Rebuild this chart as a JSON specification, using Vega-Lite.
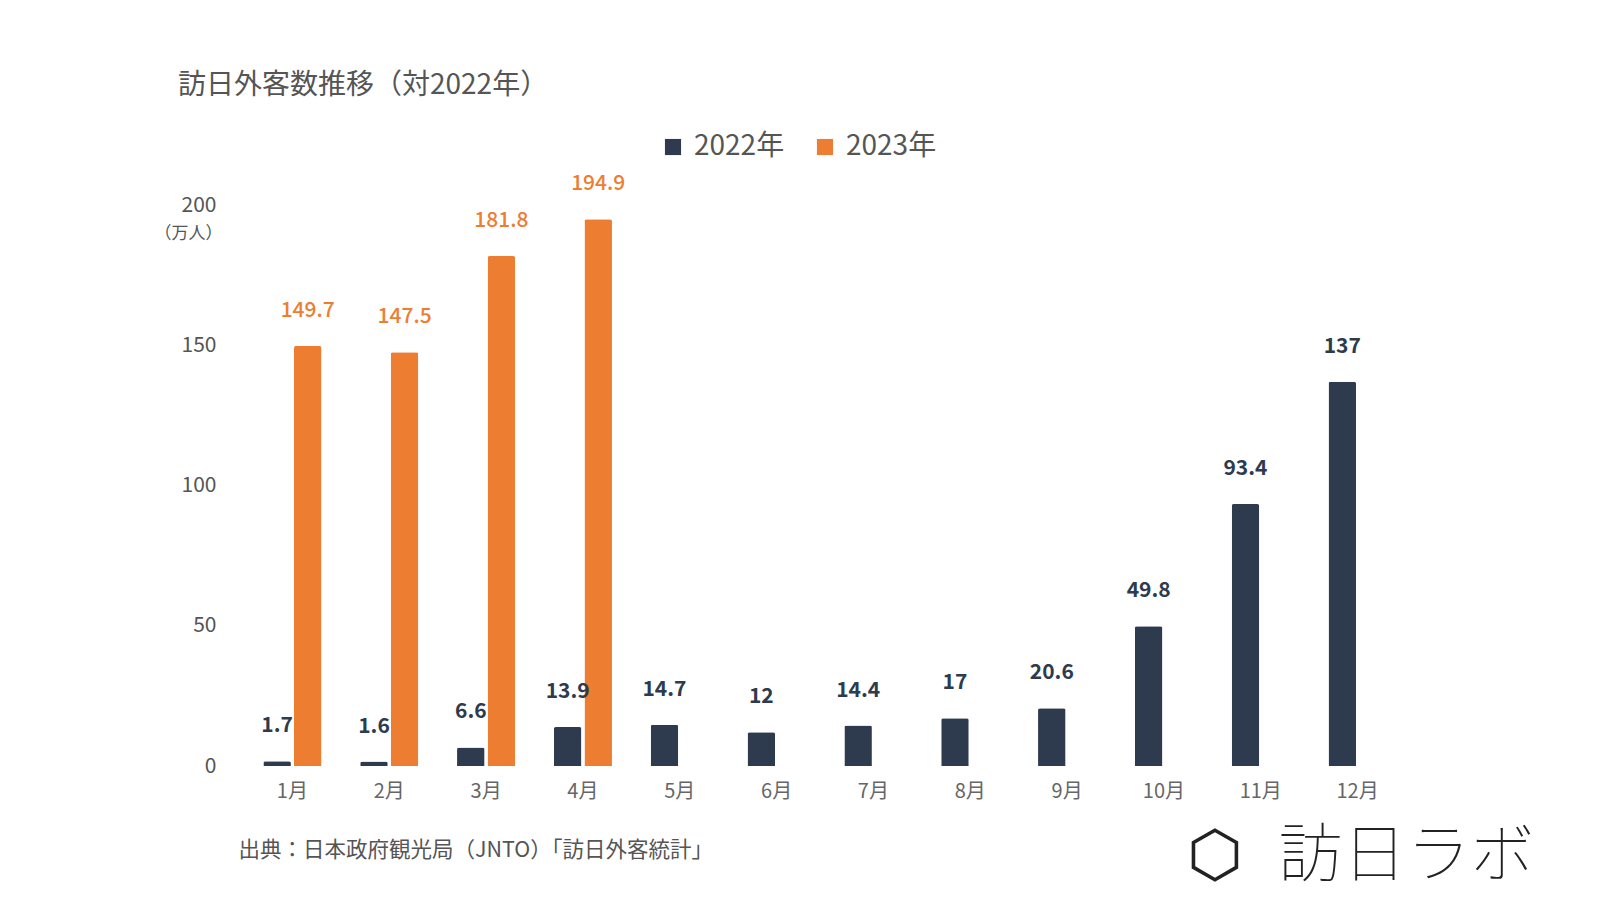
{
  "$schema": "https://vega.github.io/schema/vega-lite/v6.json",
  "autosize": {"type": "none"},
  "width": 1162,
  "height": 561,
  "padding": {"left": 244, "top": 205, "right": 194, "bottom": 134},
  "background": "#ffffff",
  "config": {
    "font": "Noto Sans CJK JP",
    "view": {"stroke": null}
  },
  "title": {
    "text": "訪日外客数推移（対2022年）",
    "anchor": "start",
    "frame": "group",
    "dx": -66,
    "fontSize": 28,
    "fontWeight": "normal",
    "color": "#555555",
    "offset": 33
  },
  "data": {
    "values": [
      {"month": "1月", "year": "2022年", "value": 1.7},
      {"month": "2月", "year": "2022年", "value": 1.6},
      {"month": "3月", "year": "2022年", "value": 6.6},
      {"month": "4月", "year": "2022年", "value": 13.9},
      {"month": "5月", "year": "2022年", "value": 14.7},
      {"month": "6月", "year": "2022年", "value": 12},
      {"month": "7月", "year": "2022年", "value": 14.4},
      {"month": "8月", "year": "2022年", "value": 17},
      {"month": "9月", "year": "2022年", "value": 20.6},
      {"month": "10月", "year": "2022年", "value": 49.8},
      {"month": "11月", "year": "2022年", "value": 93.4},
      {"month": "12月", "year": "2022年", "value": 137},
      {"month": "1月", "year": "2023年", "value": 149.7},
      {"month": "2月", "year": "2023年", "value": 147.5},
      {"month": "3月", "year": "2023年", "value": 181.8},
      {"month": "4月", "year": "2023年", "value": 194.9}
    ]
  },
  "encoding": {
    "x": {
      "field": "month",
      "type": "nominal",
      "sort": ["1月","2月","3月","4月","5月","6月","7月","8月","9月","10月","11月","12月"],
      "scale": {"paddingInner": 0.4, "paddingOuter": 0.2},
      "axis": {
        "title": "出典：日本政府観光局（JNTO）「訪日外客統計」",
        "titleX": -6,
        "titleY": 84,
        "titleAlign": "left",
        "titleBaseline": "middle",
        "titleFontSize": 21.5,
        "titleFontWeight": "normal",
        "titleColor": "#555555",
        "labelAngle": 0,
        "labelFontSize": 20,
        "labelColor": "#666666",
        "labelPadding": 15,
        "ticks": false,
        "domain": false,
        "grid": false
      }
    },
    "xOffset": {
      "field": "year",
      "type": "nominal",
      "sort": ["2022年", "2023年"],
      "scale": {"paddingInner": 0.1, "paddingOuter": 0}
    },
    "y": {
      "field": "value",
      "type": "quantitative",
      "scale": {"domain": [0, 200], "nice": false},
      "axis": null
    }
  },
  "layer": [
    {
      "mark": {"type": "bar", "cornerRadiusEnd": 2},
      "encoding": {
        "y": {
          "field": "value",
          "type": "quantitative",
          "scale": {"domain": [0, 200], "nice": false},
          "axis": {
            "values": [0, 50, 100, 150, 200],
            "title": "（万人）",
            "titleAngle": 0,
            "titleX": -56,
            "titleY": 28,
            "titleAlign": "center",
            "titleBaseline": "middle",
            "titleFontSize": 17,
            "titleFontWeight": "normal",
            "titleColor": "#555555",
            "labelFontSize": 21,
            "labelColor": "#555555",
            "labelPadding": 28,
            "ticks": false,
            "domain": false,
            "grid": false
          }
        },
        "color": {
          "field": "year",
          "type": "nominal",
          "scale": {"domain": ["2022年", "2023年"], "range": ["#2e3b4e", "#ed7d31"]},
          "legend": {
            "title": null,
            "orient": "none",
            "direction": "horizontal",
            "legendX": 415,
            "legendY": -72,
            "symbolType": "square",
            "symbolSize": 260,
            "symbolStrokeWidth": 0,
            "labelFontSize": 28,
            "labelColor": "#555555",
            "labelOffset": 7,
            "columnPadding": 26
          }
        }
      }
    },
    {
      "transform": [{"filter": "datum.year == '2022年'"}],
      "mark": {"type": "text", "baseline": "alphabetic", "dy": -29, "fontSize": 21, "fontWeight": "bold", "color": "#2e3b4e"},
      "encoding": {
        "text": {"field": "value", "type": "nominal"}
      }
    },
    {
      "transform": [{"filter": "datum.year == '2023年'"}],
      "mark": {"type": "text", "baseline": "alphabetic", "dy": -29, "fontSize": 21, "fontWeight": 500, "color": "#ed7d31"},
      "encoding": {
        "text": {"field": "value", "type": "nominal"},
        "y": {
          "field": "value",
          "type": "quantitative",
          "scale": {"domain": [0, 200], "nice": false},
          "axis": {
            "orient": "right",
            "title": "⬡\u2002\u200a訪日ラボ",
            "titleAngle": 0,
            "titleX": -220,
            "titleY": 651,
            "titleAlign": "left",
            "titleBaseline": "middle",
            "titleFontSize": 64,
            "titleFontWeight": 100,
            "titleColor": "#222222",
            "labels": false,
            "ticks": false,
            "domain": false,
            "grid": false
          }
        }
      }
    }
  ],
  "resolve": {"scale": {"y": "independent"}}
}
